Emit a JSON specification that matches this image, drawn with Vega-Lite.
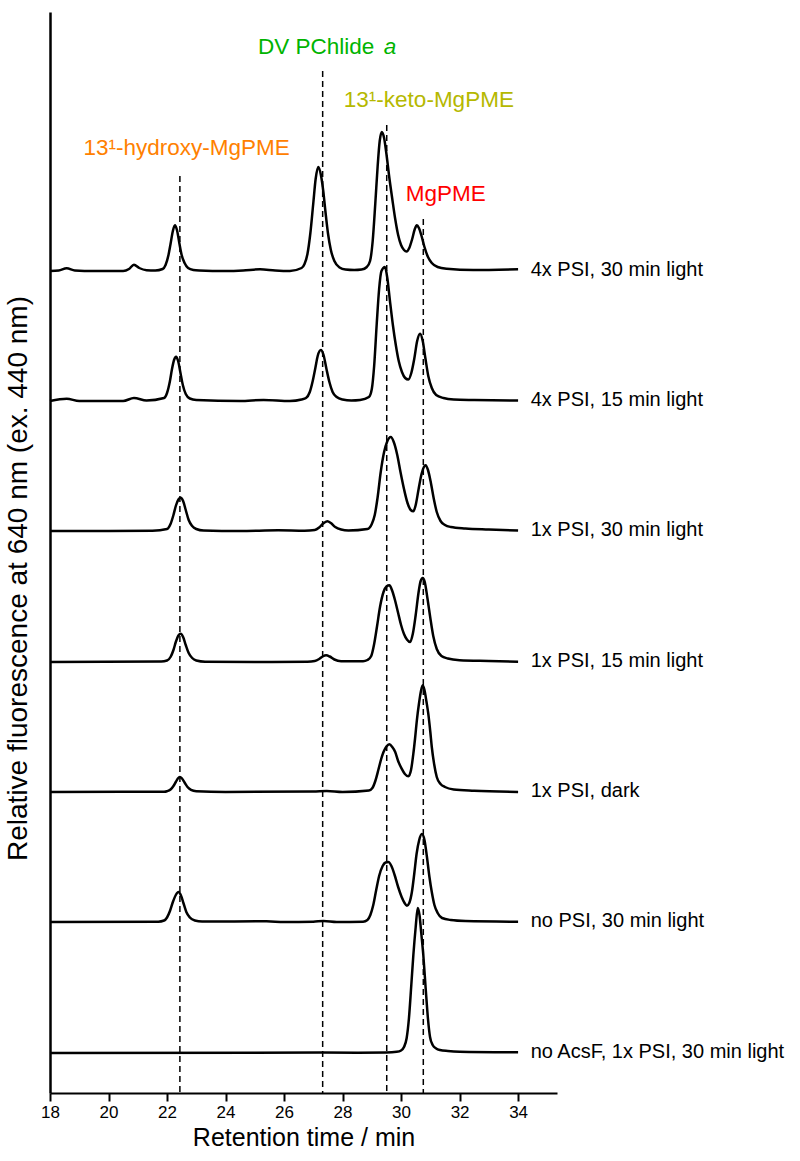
{
  "$schema": "https://vega.github.io/schema/vega-lite/v6.json",
  "width": 507,
  "height": 1081,
  "autosize": {"type": "none"},
  "padding": {"left": 50, "top": 12, "right": 243, "bottom": 68},
  "background": "white",
  "config": {"view": {"stroke": null}, "font": "Liberation Sans"},
  "datasets": {
    "traces": [
      {"s":1,"t":18.0,"v":822},{"s":1,"t":18.3,"v":822.5},{"s":1,"t":18.57,"v":824.7},{"s":1,"t":18.85,"v":822.5},{"s":1,"t":19.5,"v":822},{"s":1,"t":20.5,"v":822},{"s":1,"t":20.7,"v":824},{"s":1,"t":20.87,"v":828.3},{"s":1,"t":21.05,"v":825},{"s":1,"t":21.3,"v":822.8},{"s":1,"t":21.6,"v":822.5},{"s":1,"t":21.85,"v":824},{"s":1,"t":21.95,"v":828},{"s":1,"t":22.05,"v":838},{"s":1,"t":22.12,"v":849},{"s":1,"t":22.2,"v":862},{"s":1,"t":22.27,"v":867.7},{"s":1,"t":22.34,"v":863},{"s":1,"t":22.42,"v":850},{"s":1,"t":22.5,"v":838},{"s":1,"t":22.6,"v":830},{"s":1,"t":22.72,"v":825},{"s":1,"t":22.9,"v":823},{"s":1,"t":23.1,"v":822.5},{"s":1,"t":24.0,"v":822},{"s":1,"t":24.6,"v":822.5},{"s":1,"t":25.18,"v":823.7},{"s":1,"t":25.7,"v":822.5},{"s":1,"t":26.2,"v":822},{"s":1,"t":26.6,"v":825},{"s":1,"t":26.7,"v":829},{"s":1,"t":26.8,"v":839},{"s":1,"t":26.9,"v":860},{"s":1,"t":27.0,"v":890},{"s":1,"t":27.08,"v":914},{"s":1,"t":27.17,"v":926},{"s":1,"t":27.26,"v":918},{"s":1,"t":27.34,"v":902},{"s":1,"t":27.42,"v":880},{"s":1,"t":27.5,"v":860},{"s":1,"t":27.6,"v":843},{"s":1,"t":27.72,"v":832},{"s":1,"t":27.9,"v":825.5},{"s":1,"t":28.1,"v":823.5},{"s":1,"t":28.4,"v":823},{"s":1,"t":28.65,"v":823.5},{"s":1,"t":28.83,"v":826},{"s":1,"t":28.94,"v":832},{"s":1,"t":29.03,"v":852},{"s":1,"t":29.12,"v":890},{"s":1,"t":29.2,"v":927},{"s":1,"t":29.27,"v":952},{"s":1,"t":29.34,"v":961},{"s":1,"t":29.42,"v":955},{"s":1,"t":29.5,"v":939},{"s":1,"t":29.6,"v":915},{"s":1,"t":29.7,"v":894},{"s":1,"t":29.8,"v":874},{"s":1,"t":29.9,"v":858},{"s":1,"t":30.0,"v":848},{"s":1,"t":30.1,"v":843},{"s":1,"t":30.19,"v":841.5},{"s":1,"t":30.28,"v":845},{"s":1,"t":30.38,"v":854},{"s":1,"t":30.47,"v":864},{"s":1,"t":30.54,"v":867.7},{"s":1,"t":30.61,"v":865},{"s":1,"t":30.7,"v":857},{"s":1,"t":30.8,"v":846},{"s":1,"t":30.92,"v":836},{"s":1,"t":31.05,"v":830},{"s":1,"t":31.25,"v":826},{"s":1,"t":31.56,"v":824.3},{"s":1,"t":32.47,"v":823},{"s":1,"t":34.0,"v":823.7},
      {"s":2,"t":18.0,"v":692},{"s":2,"t":18.57,"v":694.3},{"s":2,"t":19.0,"v":692},{"s":2,"t":20.5,"v":692},{"s":2,"t":20.87,"v":695},{"s":2,"t":21.3,"v":692.5},{"s":2,"t":21.9,"v":695},{"s":2,"t":22.0,"v":700},{"s":2,"t":22.1,"v":712},{"s":2,"t":22.17,"v":724},{"s":2,"t":22.24,"v":733},{"s":2,"t":22.31,"v":736.3},{"s":2,"t":22.38,"v":732},{"s":2,"t":22.46,"v":720},{"s":2,"t":22.54,"v":708},{"s":2,"t":22.64,"v":699},{"s":2,"t":22.78,"v":694.5},{"s":2,"t":23.0,"v":693},{"s":2,"t":24.5,"v":692},{"s":2,"t":25.3,"v":693},{"s":2,"t":26.2,"v":692},{"s":2,"t":26.6,"v":693.5},{"s":2,"t":26.75,"v":695},{"s":2,"t":26.88,"v":701},{"s":2,"t":26.98,"v":712},{"s":2,"t":27.07,"v":725},{"s":2,"t":27.15,"v":737},{"s":2,"t":27.26,"v":743},{"s":2,"t":27.35,"v":738},{"s":2,"t":27.45,"v":724},{"s":2,"t":27.55,"v":711},{"s":2,"t":27.66,"v":701},{"s":2,"t":27.8,"v":696},{"s":2,"t":28.0,"v":693.5},{"s":2,"t":28.3,"v":692.5},{"s":2,"t":28.6,"v":693},{"s":2,"t":28.9,"v":696},{"s":2,"t":29.0,"v":704},{"s":2,"t":29.08,"v":727},{"s":2,"t":29.17,"v":770},{"s":2,"t":29.25,"v":804},{"s":2,"t":29.33,"v":822},{"s":2,"t":29.45,"v":826},{"s":2,"t":29.53,"v":815},{"s":2,"t":29.62,"v":792},{"s":2,"t":29.72,"v":768},{"s":2,"t":29.82,"v":748},{"s":2,"t":29.92,"v":732},{"s":2,"t":30.03,"v":721},{"s":2,"t":30.14,"v":715},{"s":2,"t":30.25,"v":713.5},{"s":2,"t":30.35,"v":720},{"s":2,"t":30.45,"v":734},{"s":2,"t":30.55,"v":752},{"s":2,"t":30.65,"v":759.3},{"s":2,"t":30.74,"v":752},{"s":2,"t":30.83,"v":735},{"s":2,"t":30.93,"v":717},{"s":2,"t":31.05,"v":705},{"s":2,"t":31.2,"v":698},{"s":2,"t":31.45,"v":695},{"s":2,"t":31.8,"v":693.5},{"s":2,"t":32.5,"v":693},{"s":2,"t":34.0,"v":692.5},
      {"s":3,"t":18.0,"v":562},{"s":3,"t":20.0,"v":562},{"s":3,"t":21.5,"v":562.3},{"s":3,"t":22.0,"v":564},{"s":3,"t":22.12,"v":569},{"s":3,"t":22.22,"v":578},{"s":3,"t":22.3,"v":587},{"s":3,"t":22.39,"v":593.5},{"s":3,"t":22.47,"v":595.3},{"s":3,"t":22.55,"v":592},{"s":3,"t":22.64,"v":583},{"s":3,"t":22.74,"v":573},{"s":3,"t":22.86,"v":567},{"s":3,"t":23.0,"v":564},{"s":3,"t":23.25,"v":562.5},{"s":3,"t":24.5,"v":562},{"s":3,"t":25.8,"v":562.7},{"s":3,"t":26.7,"v":562.3},{"s":3,"t":27.05,"v":563},{"s":3,"t":27.2,"v":565.5},{"s":3,"t":27.32,"v":569},{"s":3,"t":27.48,"v":571.7},{"s":3,"t":27.6,"v":570},{"s":3,"t":27.75,"v":566},{"s":3,"t":27.95,"v":563.5},{"s":3,"t":28.2,"v":562.5},{"s":3,"t":28.85,"v":564},{"s":3,"t":29.0,"v":569},{"s":3,"t":29.1,"v":578},{"s":3,"t":29.2,"v":596},{"s":3,"t":29.3,"v":620},{"s":3,"t":29.42,"v":641},{"s":3,"t":29.52,"v":651},{"s":3,"t":29.65,"v":656},{"s":3,"t":29.75,"v":651},{"s":3,"t":29.87,"v":638},{"s":3,"t":29.98,"v":621},{"s":3,"t":30.1,"v":604},{"s":3,"t":30.22,"v":590},{"s":3,"t":30.33,"v":583},{"s":3,"t":30.42,"v":581.7},{"s":3,"t":30.5,"v":588},{"s":3,"t":30.6,"v":604},{"s":3,"t":30.7,"v":619},{"s":3,"t":30.78,"v":626},{"s":3,"t":30.84,"v":627.7},{"s":3,"t":30.92,"v":623},{"s":3,"t":31.02,"v":610},{"s":3,"t":31.12,"v":594},{"s":3,"t":31.22,"v":581},{"s":3,"t":31.35,"v":572},{"s":3,"t":31.5,"v":568},{"s":3,"t":31.7,"v":566},{"s":3,"t":32.2,"v":564.5},{"s":3,"t":33.0,"v":563.5},{"s":3,"t":34.0,"v":562.5},
      {"s":4,"t":18.0,"v":431},{"s":4,"t":21.8,"v":431.5},{"s":4,"t":22.0,"v":432.5},{"s":4,"t":22.12,"v":436},{"s":4,"t":22.22,"v":443},{"s":4,"t":22.3,"v":451},{"s":4,"t":22.39,"v":457.5},{"s":4,"t":22.47,"v":459.3},{"s":4,"t":22.55,"v":456},{"s":4,"t":22.64,"v":448},{"s":4,"t":22.74,"v":440},{"s":4,"t":22.86,"v":435},{"s":4,"t":23.0,"v":432.5},{"s":4,"t":23.3,"v":431.3},{"s":4,"t":25.0,"v":431},{"s":4,"t":26.8,"v":431.3},{"s":4,"t":27.05,"v":432},{"s":4,"t":27.2,"v":434},{"s":4,"t":27.32,"v":436.5},{"s":4,"t":27.44,"v":437.7},{"s":4,"t":27.56,"v":436.5},{"s":4,"t":27.72,"v":433.5},{"s":4,"t":27.95,"v":431.8},{"s":4,"t":28.7,"v":431.7},{"s":4,"t":28.85,"v":433},{"s":4,"t":28.98,"v":437},{"s":4,"t":29.08,"v":449},{"s":4,"t":29.18,"v":467},{"s":4,"t":29.28,"v":486},{"s":4,"t":29.4,"v":501},{"s":4,"t":29.5,"v":506.5},{"s":4,"t":29.6,"v":507.7},{"s":4,"t":29.7,"v":502},{"s":4,"t":29.8,"v":492},{"s":4,"t":29.9,"v":480},{"s":4,"t":30.0,"v":468},{"s":4,"t":30.1,"v":459},{"s":4,"t":30.2,"v":453.5},{"s":4,"t":30.31,"v":451},{"s":4,"t":30.4,"v":459},{"s":4,"t":30.5,"v":478},{"s":4,"t":30.6,"v":501},{"s":4,"t":30.67,"v":512},{"s":4,"t":30.74,"v":515},{"s":4,"t":30.81,"v":511},{"s":4,"t":30.9,"v":495},{"s":4,"t":31.0,"v":475},{"s":4,"t":31.1,"v":457},{"s":4,"t":31.22,"v":444},{"s":4,"t":31.38,"v":437},{"s":4,"t":31.6,"v":434.5},{"s":4,"t":32.0,"v":432.8},{"s":4,"t":33.0,"v":432},{"s":4,"t":34.0,"v":431.3},
      {"s":5,"t":18.0,"v":301},{"s":5,"t":21.9,"v":301.3},{"s":5,"t":22.0,"v":301.8},{"s":5,"t":22.12,"v":303.5},{"s":5,"t":22.22,"v":307},{"s":5,"t":22.3,"v":311},{"s":5,"t":22.37,"v":314.5},{"s":5,"t":22.44,"v":316},{"s":5,"t":22.51,"v":314.5},{"s":5,"t":22.6,"v":310.5},{"s":5,"t":22.7,"v":306},{"s":5,"t":22.82,"v":303.2},{"s":5,"t":23.0,"v":301.8},{"s":5,"t":24.0,"v":301},{"s":5,"t":27.0,"v":301.5},{"s":5,"t":27.46,"v":302},{"s":5,"t":28.0,"v":301},{"s":5,"t":28.9,"v":302.5},{"s":5,"t":29.02,"v":305},{"s":5,"t":29.12,"v":312},{"s":5,"t":29.22,"v":322.7},{"s":5,"t":29.32,"v":334},{"s":5,"t":29.4,"v":341},{"s":5,"t":29.5,"v":346.5},{"s":5,"t":29.6,"v":348.7},{"s":5,"t":29.7,"v":346},{"s":5,"t":29.8,"v":341},{"s":5,"t":29.9,"v":332},{"s":5,"t":30.02,"v":324.3},{"s":5,"t":30.13,"v":319},{"s":5,"t":30.25,"v":316.7},{"s":5,"t":30.34,"v":323},{"s":5,"t":30.42,"v":339.3},{"s":5,"t":30.48,"v":355},{"s":5,"t":30.54,"v":372.7},{"s":5,"t":30.61,"v":389},{"s":5,"t":30.68,"v":402},{"s":5,"t":30.74,"v":407.7},{"s":5,"t":30.8,"v":403},{"s":5,"t":30.87,"v":391},{"s":5,"t":30.93,"v":379.3},{"s":5,"t":31.0,"v":361},{"s":5,"t":31.05,"v":346},{"s":5,"t":31.13,"v":329},{"s":5,"t":31.22,"v":316},{"s":5,"t":31.35,"v":309},{"s":5,"t":31.5,"v":306},{"s":5,"t":31.8,"v":303.5},{"s":5,"t":32.5,"v":302.2},{"s":5,"t":34.0,"v":301},
      {"s":6,"t":18.0,"v":171},{"s":6,"t":21.7,"v":171.3},{"s":6,"t":21.9,"v":172.5},{"s":6,"t":22.0,"v":175.5},{"s":6,"t":22.1,"v":182},{"s":6,"t":22.2,"v":191},{"s":6,"t":22.3,"v":198},{"s":6,"t":22.39,"v":201},{"s":6,"t":22.47,"v":198},{"s":6,"t":22.56,"v":190},{"s":6,"t":22.66,"v":181},{"s":6,"t":22.78,"v":175.5},{"s":6,"t":22.95,"v":172.5},{"s":6,"t":23.2,"v":171.5},{"s":6,"t":25.4,"v":171.7},{"s":6,"t":26.0,"v":171},{"s":6,"t":27.0,"v":171.3},{"s":6,"t":27.35,"v":172},{"s":6,"t":27.8,"v":171},{"s":6,"t":28.7,"v":171.3},{"s":6,"t":28.85,"v":173},{"s":6,"t":28.95,"v":178},{"s":6,"t":29.05,"v":188},{"s":6,"t":29.15,"v":203},{"s":6,"t":29.25,"v":217},{"s":6,"t":29.37,"v":227},{"s":6,"t":29.47,"v":230.5},{"s":6,"t":29.57,"v":231},{"s":6,"t":29.67,"v":227},{"s":6,"t":29.78,"v":218},{"s":6,"t":29.9,"v":206},{"s":6,"t":30.02,"v":196},{"s":6,"t":30.12,"v":190},{"s":6,"t":30.2,"v":187.3},{"s":6,"t":30.28,"v":190},{"s":6,"t":30.37,"v":201},{"s":6,"t":30.45,"v":219},{"s":6,"t":30.53,"v":239},{"s":6,"t":30.62,"v":253},{"s":6,"t":30.71,"v":259},{"s":6,"t":30.8,"v":253},{"s":6,"t":30.88,"v":237},{"s":6,"t":30.97,"v":216},{"s":6,"t":31.05,"v":201},{"s":6,"t":31.14,"v":188},{"s":6,"t":31.25,"v":180},{"s":6,"t":31.4,"v":175},{"s":6,"t":31.7,"v":173},{"s":6,"t":32.2,"v":172},{"s":6,"t":34.0,"v":171.3},
      {"s":7,"t":18.0,"v":40},{"s":7,"t":25.0,"v":40.3},{"s":7,"t":27.3,"v":40.5},{"s":7,"t":28.5,"v":40.3},{"s":7,"t":29.5,"v":40.5},{"s":7,"t":29.85,"v":41.2},{"s":7,"t":30.0,"v":42.5},{"s":7,"t":30.1,"v":46},{"s":7,"t":30.19,"v":54.7},{"s":7,"t":30.27,"v":75},{"s":7,"t":30.35,"v":108},{"s":7,"t":30.42,"v":138},{"s":7,"t":30.5,"v":166},{"s":7,"t":30.57,"v":185},{"s":7,"t":30.63,"v":178},{"s":7,"t":30.69,"v":160},{"s":7,"t":30.76,"v":138},{"s":7,"t":30.84,"v":105},{"s":7,"t":30.92,"v":74},{"s":7,"t":30.99,"v":56},{"s":7,"t":31.08,"v":48},{"s":7,"t":31.2,"v":44.5},{"s":7,"t":31.33,"v":43},{"s":7,"t":31.6,"v":42},{"s":7,"t":32.0,"v":41.3},{"s":7,"t":34.0,"v":40.7}
    ],
    "rules": [
      {"name":"13¹-hydroxy-MgPME","t":22.44,"v":917},
      {"name":"DV PChlide a","t":27.32,"v":1022},
      {"name":"13¹-keto-MgPME","t":29.51,"v":968},
      {"name":"MgPME","t":30.76,"v":874}
    ],
    "samples": [
      {"label":"4x PSI, 30 min light","t":34.43,"v":823},
      {"label":"4x PSI, 15 min light","t":34.43,"v":693},
      {"label":"1x PSI, 30 min light","t":34.43,"v":563},
      {"label":"1x PSI, 15 min light","t":34.43,"v":432},
      {"label":"1x PSI, dark","t":34.43,"v":302},
      {"label":"no PSI, 30 min light","t":34.43,"v":172},
      {"label":"no AcsF, 1x PSI, 30 min light","t":34.43,"v":41}
    ],
    "annots": [
      {"text":"13¹-hydroxy-MgPME","t":22.67,"v":945,"c":"#FF8000"},
      {"text":"DV PChlide","t":27.1,"v":1046,"c":"#00B400"},
      {"text":"13¹-keto-MgPME","t":30.95,"v":993,"c":"#B5B800"},
      {"text":"MgPME","t":31.53,"v":899,"c":"#FF0000"}
    ],
    "italic": [
      {"text":"a","t":29.62,"v":1046,"c":"#00B400"}
    ]
  },
  "encoding": {
    "x": {"field": "t", "type": "quantitative",
          "scale": {"domain": [18, 35.33], "nice": false, "zero": false},
          "axis": {"values": [18,20,22,24,26,28,30,32,34], "title": "Retention time / min", "grid": false,
                   "tickSize": 8, "tickWidth": 2, "domainWidth": 2, "domainColor": "black", "tickColor": "black",
                   "labelFontSize": 17, "labelColor": "black", "labelPadding": 3, "labelOverlap": false, "labelFlush": false,
                   "titleFontSize": 25, "titleFontWeight": "normal", "titleColor": "black", "titlePadding": 5}},
    "y": {"field": "v", "type": "quantitative",
          "scale": {"domain": [0, 1081], "nice": false, "zero": false},
          "axis": {"title": "Relative fluorescence at 640 nm (ex. 440 nm)", "grid": false, "ticks": false, "labels": false,
                   "domainWidth": 2.5, "domainColor": "black", "titleFontSize": 28, "titleFontWeight": "normal",
                   "titleColor": "black", "titlePadding": 18, "titleY": 566}}
  },
  "layer": [
    {
      "data": {"name": "traces"},
      "mark": {"type": "line", "interpolate": "monotone", "strokeWidth": 2.5, "color": "black"},
      "encoding": {
        "detail": {"field": "s", "type": "nominal"}
      }
    },
    {
      "data": {"name": "rules"},
      "mark": {"type": "rule", "strokeDash": [6, 4], "strokeWidth": 1.5, "color": "black"},
      "encoding": {
        "y2": {"datum": 0}
      }
    },
    {
      "data": {"name": "samples"},
      "mark": {"type": "text", "align": "left", "baseline": "middle", "fontSize": 20, "color": "black"},
      "encoding": {
        "text": {"field": "label"}
      }
    },
    {
      "data": {"name": "annots"},
      "mark": {"type": "text", "align": "center", "baseline": "middle", "fontSize": 22.5},
      "encoding": {
        "text": {"field": "text"},
        "color": {"field": "c", "type": "nominal", "scale": null}
      }
    },
    {
      "data": {"name": "italic"},
      "mark": {"type": "text", "baseline": "middle", "align": "center", "fontSize": 22.5, "fontStyle": "italic"},
      "encoding": {
        "text": {"field": "text"},
        "color": {"field": "c", "type": "nominal", "scale": null}
      }
    }
  ]
}
